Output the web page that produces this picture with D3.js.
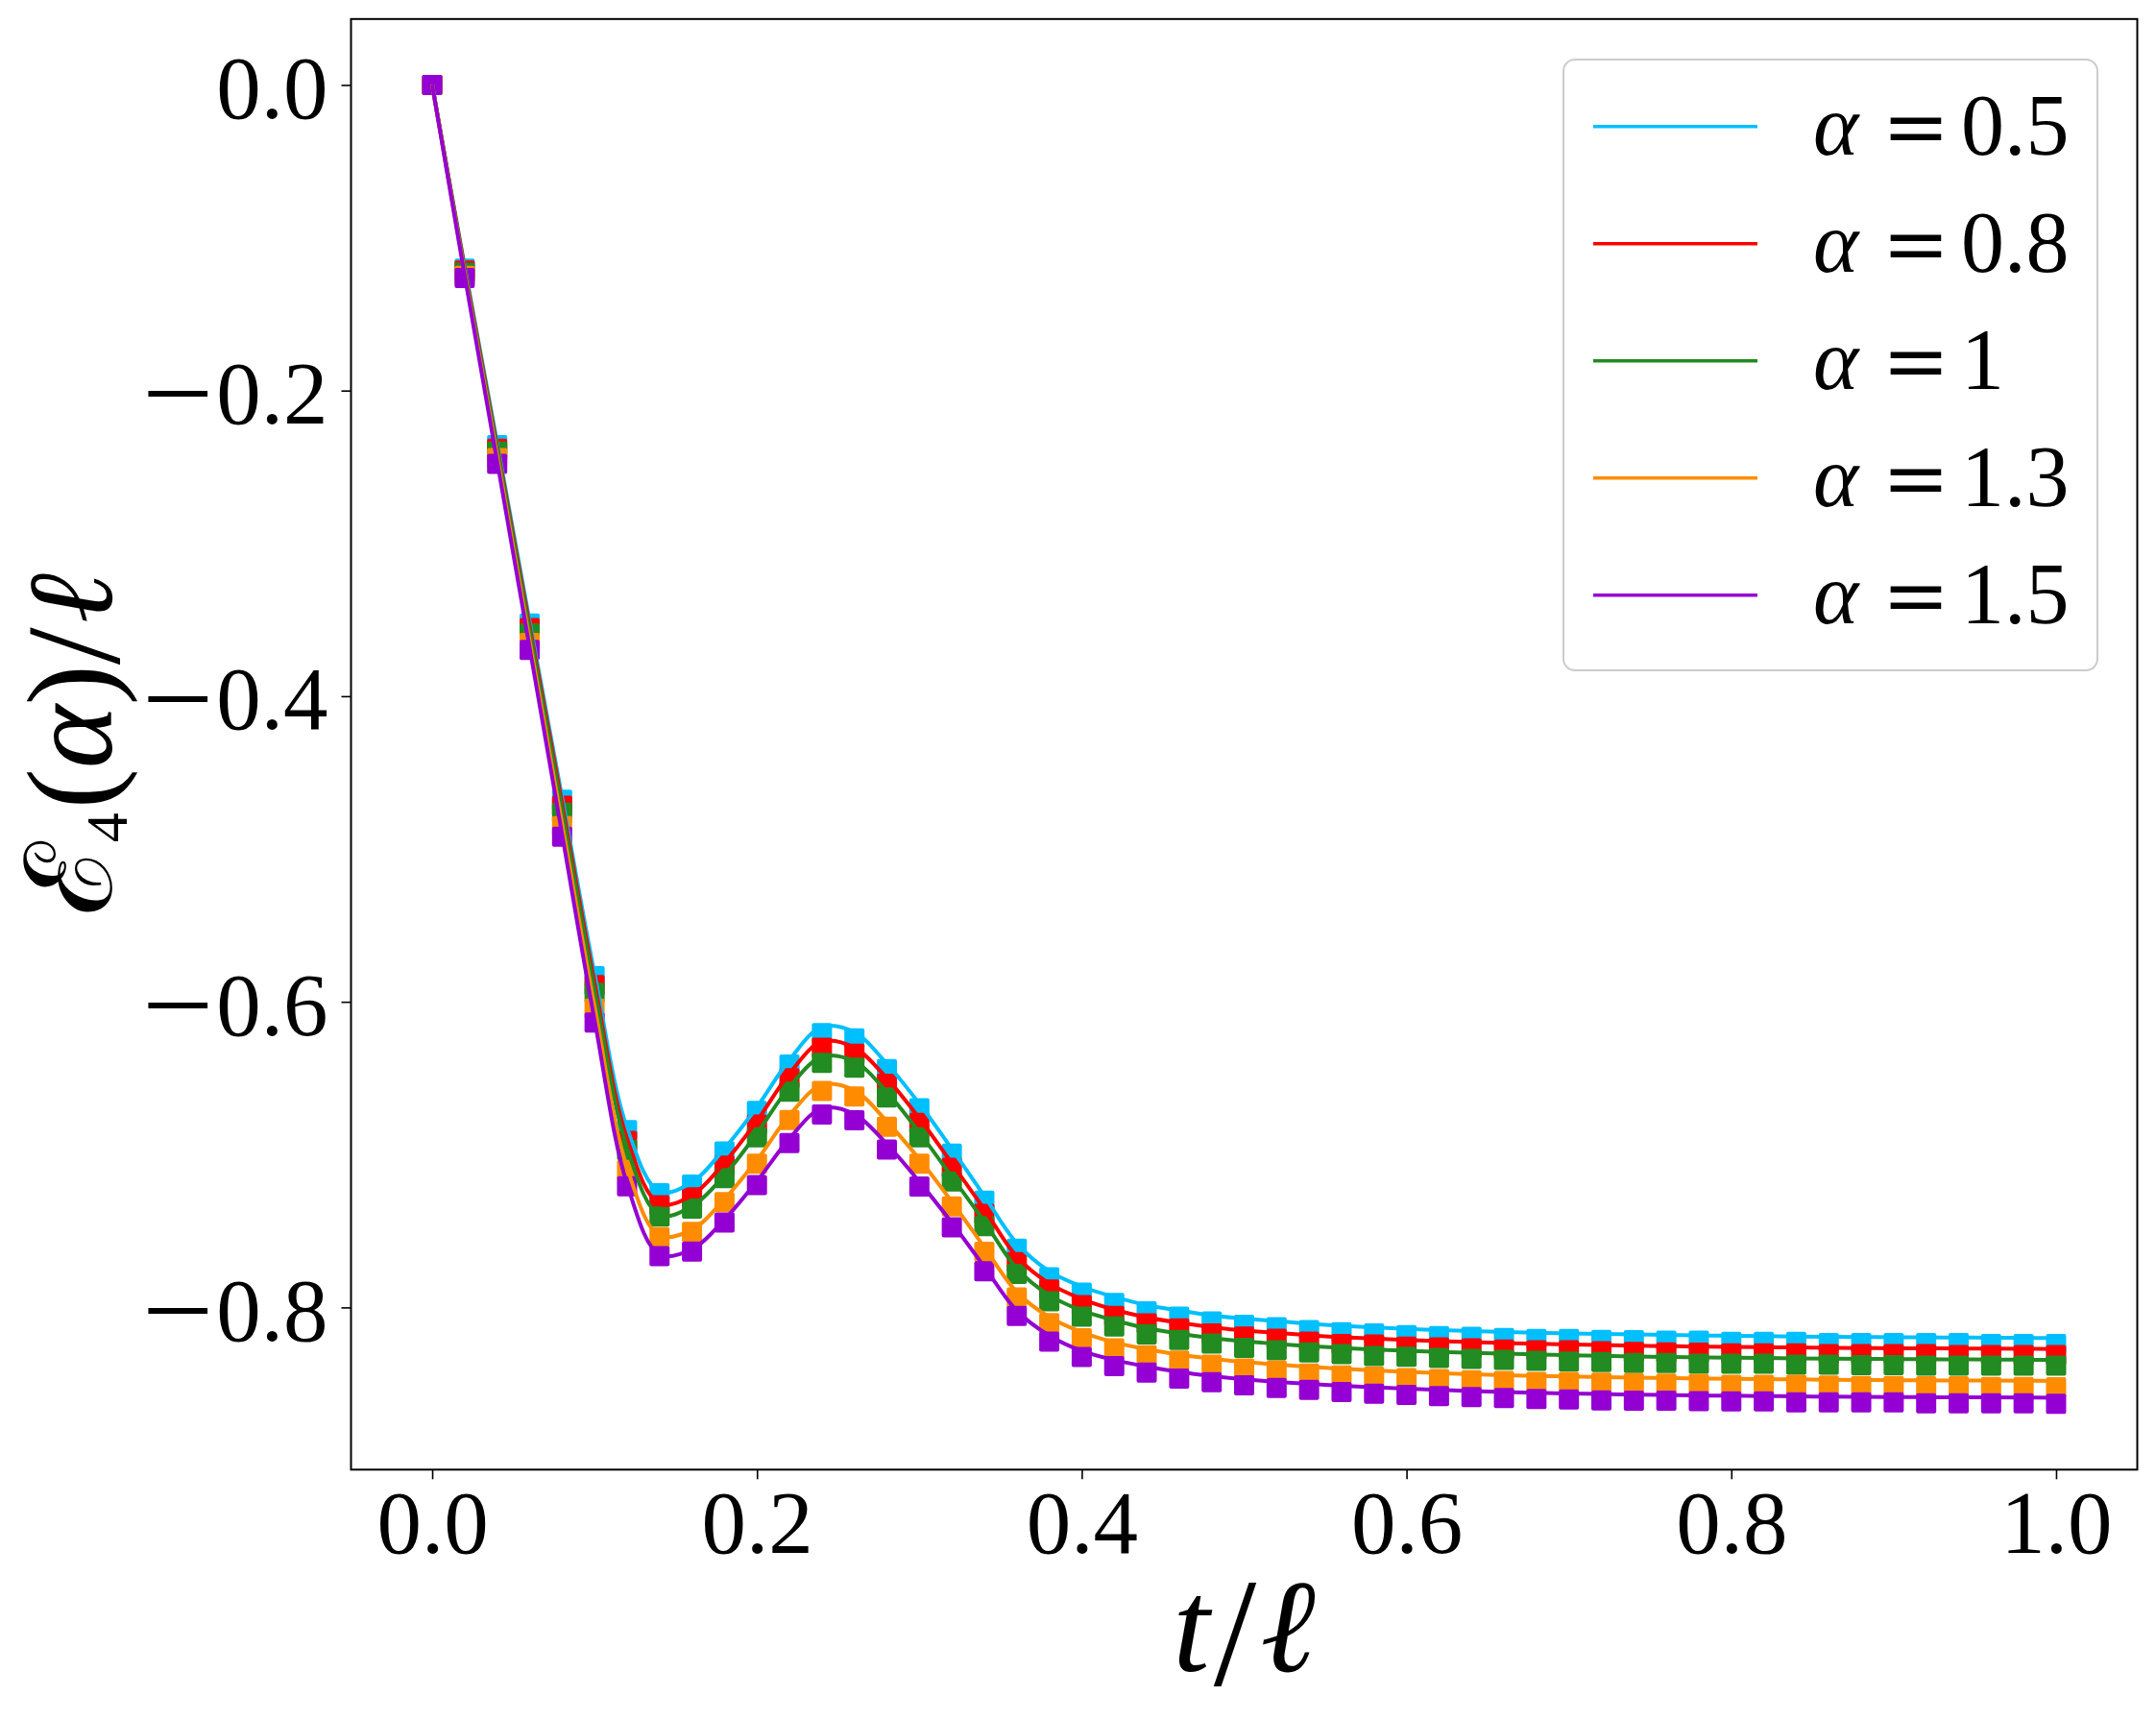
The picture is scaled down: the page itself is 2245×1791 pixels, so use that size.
<!DOCTYPE html>
<html>
<head>
<meta charset="utf-8">
<script src="https://cdn.jsdelivr.net/npm/d3@7"></script>
<style>
body{margin:0;background:#fff;}
text{font-family:"Liberation Serif","DejaVu Serif",serif;fill:#000;}
</style>
</head>
<body>
<div id="chart"></div>
<script>
// time axis t/l
let tValues = [0.00,0.02,0.04,0.06,0.08,0.10,0.12,0.14,0.16,0.18,
0.20,0.22,0.24,0.26,0.28,0.30,0.32,0.34,0.36,0.38,
0.40,0.42,0.44,0.46,0.48,0.50,0.52,0.54,0.56,0.58,
0.60,0.62,0.64,0.66,0.68,0.70,0.72,0.74,0.76,0.78,
0.80,0.82,0.84,0.86,0.88,0.90,0.92,0.94,0.96,0.98,1.00];

let alphaLabels = ["0.5","0.8","1","1.3","1.5"];
let colors = ["#00bfff","#ff0000","#228b22","#ff8c00","#9400d3"];

// square markers (numerics)
let marks05 = [0,-0.1202,-0.2357,-0.3524,-0.4678,-0.5833,-0.684,-0.7252,-0.7196,-0.698,
-0.6714,-0.641,-0.6205,-0.6239,-0.6441,-0.6697,-0.6993,-0.7301,-0.7615,-0.7803,
-0.7904,-0.7971,-0.8025,-0.806,-0.8092,-0.8113,-0.813,-0.8149,-0.8163,-0.817,
-0.8181,-0.8187,-0.8193,-0.82,-0.8206,-0.8206,-0.8212,-0.8214,-0.8218,-0.8218,
-0.8226,-0.8226,-0.8226,-0.8233,-0.8233,-0.8233,-0.8233,-0.8233,-0.8239,-0.8239,-0.8239];
let marks08 = [0,-0.1214,-0.238,-0.3554,-0.4717,-0.589,-0.691,-0.7332,-0.728,-0.7072,
-0.6804,-0.65,-0.63,-0.634,-0.6536,-0.6793,-0.7087,-0.7388,-0.7703,-0.7883,
-0.7985,-0.8055,-0.8105,-0.8138,-0.817,-0.8191,-0.8205,-0.8224,-0.8239,-0.8243,
-0.8256,-0.8262,-0.8268,-0.8275,-0.8281,-0.8281,-0.8287,-0.8292,-0.8294,-0.8296,
-0.83,-0.83,-0.83,-0.8306,-0.8306,-0.8306,-0.8306,-0.8312,-0.8312,-0.8312,-0.8312];
let marks10 = [0,-0.1229,-0.24,-0.3589,-0.4763,-0.5941,-0.697,-0.7405,-0.7353,-0.7154,
-0.6886,-0.6588,-0.64,-0.6431,-0.6626,-0.6886,-0.7175,-0.7468,-0.778,-0.796,
-0.8061,-0.8124,-0.8176,-0.8212,-0.8237,-0.8264,-0.828,-0.8294,-0.8306,-0.8318,
-0.8323,-0.833,-0.8337,-0.8343,-0.835,-0.8354,-0.8357,-0.8363,-0.8363,-0.8369,
-0.8369,-0.8369,-0.8375,-0.8375,-0.8377,-0.8377,-0.8381,-0.8381,-0.8381,-0.8381,-0.8381];
let marks13 = [0,-0.1249,-0.2442,-0.3651,-0.4851,-0.6045,-0.71,-0.754,-0.7506,-0.7311,
-0.706,-0.6773,-0.6584,-0.662,-0.6818,-0.706,-0.7339,-0.7636,-0.7935,-0.8103,
-0.8201,-0.8268,-0.8314,-0.8348,-0.8375,-0.84,-0.8413,-0.8432,-0.8446,-0.8453,
-0.8463,-0.8469,-0.8476,-0.8482,-0.8488,-0.8488,-0.8493,-0.8495,-0.8499,-0.85,
-0.8507,-0.8507,-0.8507,-0.8512,-0.8514,-0.8514,-0.8516,-0.8516,-0.852,-0.852,-0.8522];
let marks15 = [0,-0.1263,-0.2479,-0.3697,-0.492,-0.6136,-0.7207,-0.7664,-0.7634,-0.7445,
-0.7199,-0.6925,-0.6737,-0.6775,-0.6967,-0.7208,-0.7476,-0.7764,-0.8056,-0.8224,
-0.8324,-0.8384,-0.8427,-0.8465,-0.849,-0.851,-0.8527,-0.854,-0.8554,-0.8565,
-0.8573,-0.858,-0.8587,-0.8593,-0.86,-0.8603,-0.8608,-0.861,-0.8611,-0.8614,
-0.8615,-0.8615,-0.8621,-0.8621,-0.8621,-0.8621,-0.8628,-0.8628,-0.8628,-0.8628,-0.863];

// solid curves
let line05 = [0,-0.1187,-0.2342,-0.3509,-0.4663,-0.5818,-0.6825,-0.7242,-0.7181,-0.696,
-0.6689,-0.638,-0.6165,-0.6199,-0.6406,-0.6667,-0.6963,-0.7271,-0.758,-0.7763,
-0.7864,-0.7931,-0.7985,-0.802,-0.8052,-0.8073,-0.809,-0.8107,-0.812,-0.8131,
-0.8141,-0.8148,-0.8155,-0.8161,-0.8166,-0.817,-0.8174,-0.8177,-0.818,-0.8183,
-0.8186,-0.8188,-0.819,-0.8192,-0.8194,-0.8195,-0.8196,-0.8197,-0.8198,-0.8199,-0.82];
let line08 = [0,-0.1199,-0.2365,-0.3539,-0.4702,-0.5875,-0.6895,-0.7322,-0.7265,-0.7052,
-0.6779,-0.647,-0.626,-0.63,-0.6501,-0.6763,-0.7057,-0.7358,-0.7668,-0.7843,
-0.7945,-0.8015,-0.8065,-0.81,-0.813,-0.8151,-0.8167,-0.8182,-0.8195,-0.8204,
-0.8213,-0.822,-0.8227,-0.8233,-0.8238,-0.8242,-0.8246,-0.825,-0.8253,-0.8256,
-0.8258,-0.826,-0.8262,-0.8264,-0.8266,-0.8267,-0.8268,-0.8269,-0.827,-0.8271,-0.8272];
let line10 = [0,-0.1214,-0.2385,-0.3574,-0.4748,-0.5926,-0.6955,-0.7395,-0.7338,-0.7134,
-0.6861,-0.6558,-0.636,-0.6391,-0.6591,-0.6856,-0.7145,-0.7438,-0.7745,-0.792,
-0.8021,-0.8084,-0.8136,-0.8172,-0.82,-0.8222,-0.8238,-0.8253,-0.8265,-0.8276,
-0.8284,-0.8291,-0.8297,-0.8303,-0.8308,-0.8313,-0.8317,-0.8321,-0.8324,-0.8327,
-0.8329,-0.8331,-0.8333,-0.8335,-0.8337,-0.8338,-0.8339,-0.834,-0.8341,-0.8342,-0.8343];
let line13 = [0,-0.1234,-0.2427,-0.3636,-0.4836,-0.603,-0.7085,-0.753,-0.7491,-0.7291,
-0.7035,-0.6743,-0.6544,-0.658,-0.6783,-0.703,-0.7309,-0.7606,-0.79,-0.8063,
-0.8161,-0.8228,-0.8274,-0.8308,-0.8335,-0.8358,-0.8374,-0.8389,-0.8402,-0.8413,
-0.8422,-0.843,-0.8437,-0.8443,-0.8448,-0.8452,-0.8456,-0.8459,-0.8462,-0.8465,
-0.8467,-0.8469,-0.8471,-0.8473,-0.8475,-0.8476,-0.8477,-0.8478,-0.8479,-0.848,-0.8481];
let line15 = [0,-0.1248,-0.2464,-0.3682,-0.4905,-0.6121,-0.7192,-0.7654,-0.7619,-0.7425,
-0.7174,-0.6895,-0.6697,-0.6735,-0.6932,-0.7178,-0.7446,-0.7734,-0.8021,-0.8184,
-0.8284,-0.8344,-0.8387,-0.8422,-0.8449,-0.847,-0.8487,-0.8501,-0.8513,-0.8523,
-0.8532,-0.854,-0.8547,-0.8553,-0.8558,-0.8563,-0.8567,-0.857,-0.8573,-0.8576,
-0.8578,-0.858,-0.8582,-0.8584,-0.8585,-0.8586,-0.8587,-0.8588,-0.8589,-0.859,-0.8591];

let xTicks = [0,0.2,0.4,0.6,0.8,1.0];
let yTicks = [0,-0.2,-0.4,-0.6,-0.8];

let markSeries = [marks05,marks08,marks10,marks13,marks15];
let lineSeries = [line05,line08,line10,line13,line15];

let W = 2245, H = 1791;
let plot = {left:365.5, right:2225.5, top:19.8, bottom:1530.3};
let tickFont = 93;

let svg = d3.select("#chart").append("svg")
.attr("width",W).attr("height",H)
.style("display","block");

// scales, 5% margins like the original
let allVals = markSeries.flat().concat(lineSeries.flat());
let yMin = d3.min(allVals), yMax = d3.max(allVals);
let yPad = (yMax-yMin)*0.05;
let tMin = d3.min(tValues), tMax = d3.max(tValues);
let tPad = (tMax-tMin)*0.05;

let scaleX = d3.scaleLinear().domain([tMin-tPad, tMax+tPad]).range([plot.left, plot.right]);
let scaleY = d3.scaleLinear().domain([yMin-yPad, yMax+yPad]).range([plot.bottom, plot.top]);

// markers first
markSeries.forEach((vals,k) => {
svg.append("g").selectAll("rect").data(vals).enter().append("rect")
.attr("x",(d,i) => scaleX(tValues[i])-10.5)
.attr("y",d => scaleY(d)-10.5)
.attr("width",21).attr("height",21)
.attr("rx",2)
.attr("fill",colors[k]);
});

// curves on top
let lineGen = d3.line()
.x((d,i) => scaleX(tValues[i]))
.y(d => scaleY(d))
.curve(d3.curveCatmullRom.alpha(0.5));

lineSeries.forEach((vals,k) => {
svg.append("path").datum(vals)
.attr("d",lineGen)
.attr("fill","none")
.attr("stroke",colors[k])
.attr("stroke-width",4)
.attr("stroke-linejoin","round");
});

// axes
let fmt = d3.format(".1f");
function tickText(sel){
sel.each(function(d){
let t = d3.select(this).text("");
let s = fmt(d);
if (s[0]=="\u2212" || s[0]=="-") {
// long thin minus like the TeX one
t.append("tspan").style("font-size","120px").attr("dy",-3).text("\u2013");
t.append("tspan").attr("dx",10).attr("dy",3).text(s.slice(1));
} else {
t.append("tspan").text(s);
}
});
}

let axisX = svg.append("g").attr("transform","translate(0,"+plot.bottom+")")
.call(d3.axisBottom(scaleX).tickValues(xTicks).tickSize(10).tickSizeOuter(0));
axisX.select(".domain").remove();
axisX.selectAll("line").attr("stroke-width",1.6);
axisX.selectAll("text").attr("y",87).attr("dy",0)
.style("font-size",tickFont+"px").style("font-family","Liberation Serif")
.call(tickText);

let axisY = svg.append("g").attr("transform","translate("+plot.left+",0)")
.call(d3.axisLeft(scaleY).tickValues(yTicks).tickSize(10).tickSizeOuter(0));
axisY.select(".domain").remove();
axisY.selectAll("line").attr("stroke-width",1.6);
axisY.selectAll("text").attr("x",-24).attr("dy",0).attr("y",34)
.style("font-size",tickFont+"px").style("font-family","Liberation Serif")
.call(tickText);

// frame
svg.append("rect")
.attr("x",plot.left).attr("y",plot.top)
.attr("width",plot.right-plot.left).attr("height",plot.bottom-plot.top)
.attr("fill","none").attr("stroke","#000").attr("stroke-width",2);

// axis labels
let xl = svg.append("text").attr("x",(plot.left+plot.right)/2).attr("y",1740)
.attr("text-anchor","middle").style("font-size","138px");
xl.append("tspan").style("font-style","italic").text("t");
xl.append("tspan").attr("dy",14).attr("dx",4).style("font-size","160px").text("/");
xl.append("tspan").attr("dy",-14).attr("dx",4).style("font-style","italic").text("\u2113");

let yl = svg.append("text")
.attr("transform","translate(116,"+((plot.top+plot.bottom)/2)+") rotate(-90)")
.attr("text-anchor","middle").style("font-size","126px");
yl.append("tspan").style("font-family","DejaVu Serif").text("\u2130");
yl.append("tspan").attr("dy",16).style("font-size","62px").text("4");
yl.append("tspan").attr("dy",-16).attr("dx",4).text("(");
yl.append("tspan").style("font-style","italic").text("\u03b1");
yl.append("tspan").text(")");
yl.append("tspan").attr("dy",8).style("font-size","140px").text("/");
yl.append("tspan").attr("dy",-8).attr("dx",4).style("font-style","italic").text("\u2113");

// legend
let legendFont = 90;
let leg = svg.append("g");
leg.append("rect")
.attr("x",1628).attr("y",62).attr("width",556).attr("height",636)
.attr("rx",12)
.attr("fill","#fff").attr("fill-opacity",0.8)
.attr("stroke","#cccccc").attr("stroke-width",2);

let rows = leg.selectAll("g.row").data(alphaLabels).enter().append("g")
.attr("class","row")
.attr("transform",(d,i) => "translate(0,"+(131.7+122*i)+")");
rows.append("line")
.attr("x1",1659).attr("x2",1830)
.attr("stroke",(d,i) => colors[i]).attr("stroke-width",3.6);
rows.append("text").attr("x",1888).attr("y",legendFont*0.33)
.style("font-size",legendFont+"px").style("font-style","italic").text("\u03b1");
rows.append("text").attr("x",1995).attr("y",legendFont*0.33).attr("text-anchor","middle")
.style("font-size","84px").style("font-family","DejaVu Serif").text("=");
rows.append("text").attr("x",2042).attr("y",legendFont*0.33)
.style("font-size",legendFont+"px").text(d => d);
</script>
</body>
</html>
